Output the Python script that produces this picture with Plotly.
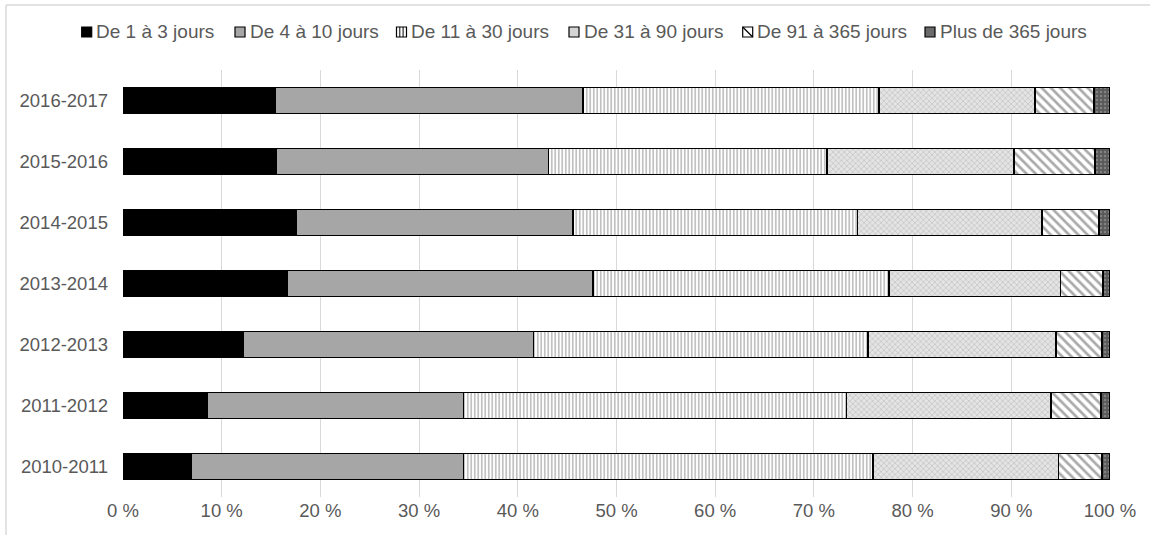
import plotly.graph_objects as go

years = ["2010-2011", "2011-2012", "2012-2013", "2013-2014", "2014-2015", "2015-2016", "2016-2017"]
series_names = ["De 1 à 3 jours", "De 4 à 10 jours", "De 11 à 30 jours",
                "De 31 à 90 jours", "De 91 à 365 jours", "Plus de 365 jours"]
d1_3 = [6.9, 8.5, 12.2, 16.6, 17.5, 15.5, 15.4]
d4_10 = [27.6, 26.0, 29.4, 31.0, 28.1, 27.6, 31.2]
d11_30 = [41.5, 38.8, 33.9, 30.0, 28.8, 28.2, 30.0]
d31_90 = [18.8, 20.7, 19.0, 17.4, 18.7, 19.0, 15.8]
d91_365 = [4.4, 5.1, 4.7, 4.3, 5.8, 8.2, 6.0]
d365p = [0.8, 0.9, 0.8, 0.7, 1.1, 1.5, 1.6]
tick_vals = [0, 10, 20, 30, 40, 50, 60, 70, 80, 90, 100]
tick_text = ["0 %", "10 %", "20 %", "30 %", "40 %", "50 %", "60 %", "70 %", "80 %", "90 %", "100 %"]

values = [d1_3, d4_10, d11_30, d31_90, d91_365, d365p]
styles = [
    dict(color="#000000", pattern=dict(shape="")),
    dict(color="#a6a6a6", pattern=dict(shape="")),
    dict(color="#ffffff", pattern=dict(shape="|", fgcolor="#505050", bgcolor="#ffffff", size=3.5, solidity=0.35, fillmode="overlay")),
    dict(color="#ffffff", pattern=dict(shape="x", fgcolor="#858585", bgcolor="#e4e4e4", size=4, solidity=0.25, fillmode="overlay")),
    dict(color="#ffffff", pattern=dict(shape="\\", fgcolor="#555555", bgcolor="#ffffff", size=6.5, solidity=0.42, fillmode="overlay")),
    dict(color="#595959", pattern=dict(shape=".", fgcolor="#a8a8a8", bgcolor="#595959", size=4, solidity=0.3, fillmode="overlay")),
]
# legend swatch look (small squares, drawn as shapes)
swatch_fill = ["#000000", "#a6a6a6", "#ffffff", "#d4d4d4", "#ffffff", "#6a6a6a"]

fig = go.Figure()
for name, vals, st in zip(series_names, values, styles):
    fig.add_trace(go.Bar(
        y=years, x=vals, name=name, orientation="h", showlegend=False,
        marker=dict(color=st["color"], pattern=st["pattern"],
                    line=dict(color="#000000", width=1.6)),
    ))

L, R, T, B = 123, 40, 70, 38
W, H = 1150, 535
pw, ph = W - L - R, H - T - B


def px(xp):
    return (xp - L) / pw


def py(yp):
    return 1 + (T - yp) / ph


FONT = "Liberation Sans, Arial, sans-serif"
TXT = "#595959"

# custom legend layout (pixel positions of swatches)
sw_x = [81.7, 235, 396.5, 569, 742.7, 925]
sw_size = 10
leg_y = 32
shapes = [
    dict(type="line", xref="paper", yref="paper",
         x0=px(6), x1=px(W + 10), y0=py(5), y1=py(5),
         line=dict(color="#d9d9d9", width=1.5)),
    dict(type="line", xref="paper", yref="paper",
         x0=px(6), x1=px(6), y0=py(5), y1=py(H + 10),
         line=dict(color="#d9d9d9", width=1.5)),
]
annotations = []
for i, (name, fill) in enumerate(zip(series_names, swatch_fill)):
    x0 = sw_x[i]
    shapes.append(dict(type="rect", xref="paper", yref="paper",
                       x0=px(x0), x1=px(x0 + sw_size),
                       y0=py(leg_y + sw_size / 2), y1=py(leg_y - sw_size / 2),
                       fillcolor=fill, line=dict(color="#000000", width=1.2)))
    if i == 2:
        for k in (3.3, 6.6):
            shapes.append(dict(type="line", xref="paper", yref="paper",
                               x0=px(x0 + k), x1=px(x0 + k),
                               y0=py(leg_y + sw_size / 2), y1=py(leg_y - sw_size / 2),
                               line=dict(color="#000000", width=1)))
    if i == 4:
        shapes.append(dict(type="line", xref="paper", yref="paper",
                           x0=px(x0), x1=px(x0 + sw_size),
                           y0=py(leg_y - sw_size / 2), y1=py(leg_y + sw_size / 2),
                           line=dict(color="#000000", width=1.2)))
    annotations.append(dict(text=name, xref="paper", yref="paper",
                            x=px(x0 + sw_size + 2.5), y=py(leg_y),
                            xanchor="left", yanchor="middle", showarrow=False,
                            font=dict(family=FONT, size=19, color=TXT)))

fig.update_layout(
    width=W, height=H,
    barmode="stack", bargap=0.58,
    margin=dict(l=L, r=R, t=T, b=B, pad=0),
    paper_bgcolor="white", plot_bgcolor="white",
    font=dict(family=FONT, size=18.5, color=TXT),
    showlegend=False,
    xaxis=dict(range=[0, 100], tickvals=tick_vals, ticktext=tick_text,
               showgrid=True, gridcolor="#d9d9d9", gridwidth=1,
               zeroline=False, showline=False, ticks="",
               tickfont=dict(size=18.5, color=TXT), fixedrange=True),
    yaxis=dict(categoryorder="array", categoryarray=years,
               showgrid=False, zeroline=False, showline=False, ticks="",
               ticklabelstandoff=14,
               tickfont=dict(size=18.5, color=TXT), fixedrange=True),
    shapes=shapes,
    annotations=annotations,
)

fig.write_html("out.html")
